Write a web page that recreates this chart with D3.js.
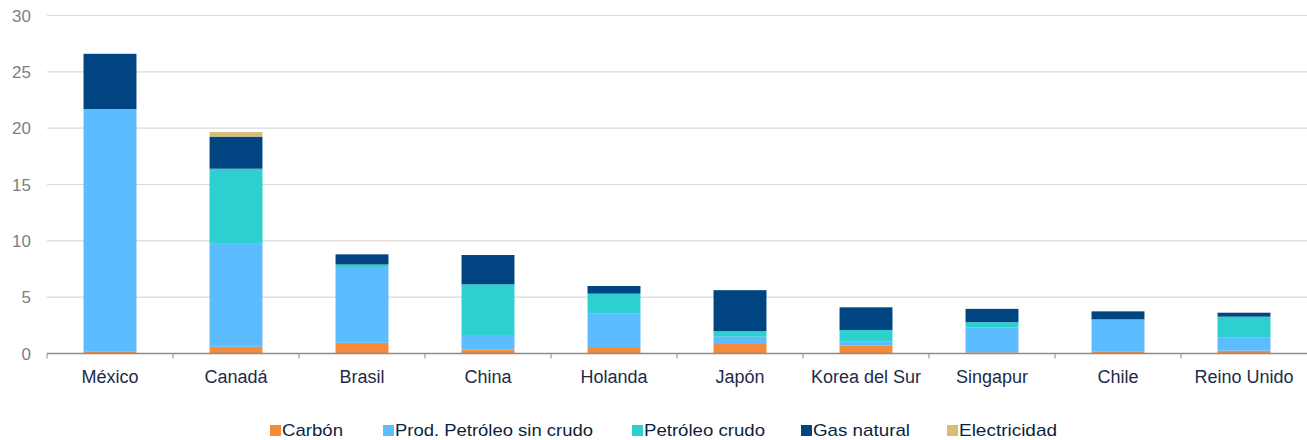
<!DOCTYPE html>
<html>
<head>
<meta charset="utf-8">
<script src="https://cdn.jsdelivr.net/npm/d3@7"></script>
<style>
  body { margin: 0; background: #fff; }
  svg { display: block; font-family: "Liberation Sans", Arial, sans-serif; }
</style>
</head>
<body>
<svg width="1307" height="440"></svg>
<script>
// datos
var paises = ["México", "Canadá", "Brasil", "China", "Holanda", "Japón", "Korea del Sur", "Singapur", "Chile", "Reino Unido"];
var carbon = [0.2, 0.6, 0.95, 0.37, 0.58, 0.84, 0.69, 0.1, 0.15, 0.25];
var prodPetroleo = [21.5, 9.2, 6.65, 1.27, 2.95, 0.65, 0.36, 2.2, 2.88, 1.15];
var petroleoCrudo = [0, 6.6, 0.3, 4.5, 1.78, 0.5, 1.04, 0.48, 0, 1.87];
var gasNatural = [4.9, 2.85, 0.9, 2.6, 0.68, 3.63, 2.01, 1.18, 0.71, 0.35];
var electricidad = [0, 0.4, 0, 0, 0, 0, 0, 0, 0, 0];
var series = ["Carbón", "Prod. Petróleo sin crudo", "Petróleo crudo", "Gas natural", "Electricidad"];
var yTicks = [0, 5, 10, 15, 20, 25, 30];

var colores = ["#f58a3a", "#5bbdff", "#2ecfcf", "#004481", "#d6bd74"];

var svg = d3.select("svg"),
    margin = {left: 47, right: 0, top: 15.5, bottom: 86.5},
    width = +svg.attr("width"),
    height = +svg.attr("height");

var tabla = paises.map(function(p, i) {
  return {pais: p, "Carbón": carbon[i], "Prod. Petróleo sin crudo": prodPetroleo[i],
    "Petróleo crudo": petroleoCrudo[i], "Gas natural": gasNatural[i], "Electricidad": electricidad[i]};
});

var x = d3.scaleBand()
    .domain(paises)
    .range([margin.left, width - margin.right])
    .paddingInner(0.58)
    .paddingOuter(0.29);

var y = d3.scaleLinear()
    .domain([0, 30])
    .range([height - margin.bottom, margin.top]);

var color = d3.scaleOrdinal().domain(series).range(colores);

// lineas de cuadricula
svg.append("g")
  .selectAll("line")
  .data(yTicks.slice(1))
  .enter().append("line")
    .attr("x1", margin.left)
    .attr("x2", width - margin.right)
    .attr("y1", function(d) { return y(d); })
    .attr("y2", function(d) { return y(d); })
    .attr("stroke", "#d9d9d9")
    .attr("stroke-width", 1.2);

// etiquetas eje y
svg.append("g")
  .selectAll("text")
  .data(yTicks)
  .enter().append("text")
    .attr("x", 31)
    .attr("y", function(d) { return y(d) + 6; })
    .attr("text-anchor", "end")
    .attr("font-size", "17px")
    .attr("fill", "#7f7f7f")
    .text(function(d) { return d; });

var stack = d3.stack().keys(series);
var capas = stack(tabla);

svg.append("g")
  .selectAll("g")
  .data(capas)
  .enter().append("g")
    .attr("fill", function(d) { return color(d.key); })
  .selectAll("rect")
  .data(function(d) { return d; })
  .enter().append("rect")
    .attr("x", function(d) { return x(d.data.pais); })
    .attr("y", function(d) { return y(d[1]); })
    .attr("width", x.bandwidth())
    .attr("height", function(d) { return Math.max(0, y(d[0]) - y(d[1])); });

// eje x
var axisY = y(0);
svg.append("line")
  .attr("x1", margin.left).attr("x2", width)
  .attr("y1", axisY).attr("y2", axisY)
  .attr("stroke", "#8c8c8c").attr("stroke-width", 1.3);

var step = x.step();
svg.append("g")
  .selectAll("line")
  .data(d3.range(paises.length))
  .enter().append("line")
    .attr("x1", function(i) { return margin.left + i * step; })
    .attr("x2", function(i) { return margin.left + i * step; })
    .attr("y1", axisY)
    .attr("y2", axisY + 5)
    .attr("stroke", "#8c8c8c");

svg.append("g")
  .selectAll("text")
  .data(paises)
  .enter().append("text")
    .attr("x", function(d) { return x(d) + x.bandwidth() / 2; })
    .attr("y", 383)
    .attr("text-anchor", "middle")
    .attr("font-size", "18px")
    .attr("fill", "#1d2b48")
    .text(function(d) { return d; });

// leyenda
var legendX = [270, 383, 632, 801, 947];
var legendW = [61, 198, 121, 97, 98];
var leyenda = svg.append("g");
series.forEach(function(s, i) {
  leyenda.append("rect")
    .attr("x", legendX[i])
    .attr("y", 425)
    .attr("width", 11)
    .attr("height", 11)
    .attr("fill", color(s));
  leyenda.append("text")
    .attr("x", legendX[i] + 12)
    .attr("y", 436)
    .attr("font-size", "17px")
    .attr("textLength", legendW[i])
    .attr("lengthAdjust", "spacingAndGlyphs")
    .attr("fill", "#0d1f40")
    .text(s);
});
</script>
</body>
</html>
